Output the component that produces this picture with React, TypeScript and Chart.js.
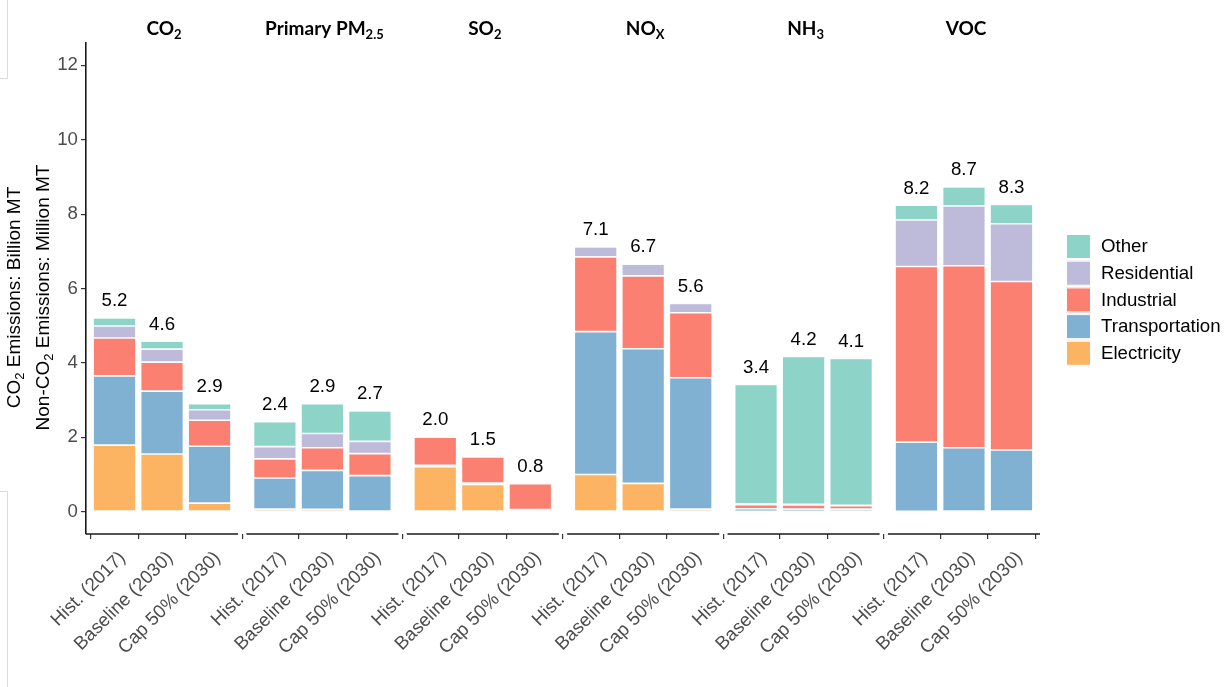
import React, { useEffect, useRef } from 'react';
import { Chart, registerables } from 'chart.js';

Chart.register(...registerables);

// Facets (pollutants), left to right, and the three scenarios within each facet
const pollutants = ['CO2', 'Primary PM2.5', 'SO2', 'NOX', 'NH3', 'VOC'];
const scenarios = ['Hist. (2017)', 'Baseline (2030)', 'Cap 50% (2030)'];
const sectors = ['Electricity', 'Transportation', 'Industrial', 'Residential', 'Other'];

// Emissions by sector, one value per pollutant x scenario (pollutant-major order).
// CO2 in billion MT, everything else in million MT.
const electricity = [1.79, 1.55, 0.23, 0.07, 0.065, 0.0, 1.21, 0.73, 0.03, 1.0, 0.76, 0.07, 0.01, 0.01, 0.0, 0.01, 0.02, 0.0];
const transportation = [1.86, 1.69, 1.53, 0.835, 1.045, 0.97, 0.04, 0.04, 0.03, 3.84, 3.62, 3.53, 0.07, 0.06, 0.07, 1.86, 1.7, 1.66];
const industrial = [1.02, 0.78, 0.7, 0.515, 0.61, 0.59, 0.75, 0.7, 0.69, 2.01, 1.96, 1.75, 0.11, 0.11, 0.09, 4.72, 4.89, 4.53];
const residential = [0.32, 0.35, 0.28, 0.33, 0.38, 0.33, 0.01, 0.01, 0.0, 0.27, 0.31, 0.25, 0.02, 0.02, 0.01, 1.25, 1.61, 1.55];
const other = [0.22, 0.21, 0.16, 0.67, 0.8, 0.82, 0.01, 0.01, 0.01, 0.01, 0.01, 0.01, 3.21, 3.97, 3.95, 0.4, 0.51, 0.52];

const yTicks = [0, 2, 4, 6, 8, 10, 12];

const seriesValues = [electricity, transportation, industrial, residential, other];
const sectorColors = ['#FDB462', '#80B1D3', '#FB8072', '#BEBADA', '#8DD3C7'];

type Seg = { t: string; sub?: boolean };

// Strip titles with subscripts
const facetTitles: Seg[][] = [
  [{ t: 'CO' }, { t: '2', sub: true }],
  [{ t: 'Primary PM' }, { t: '2.5', sub: true }],
  [{ t: 'SO' }, { t: '2', sub: true }],
  [{ t: 'NO' }, { t: 'X', sub: true }],
  [{ t: 'NH' }, { t: '3', sub: true }],
  [{ t: 'VOC' }],
];

const yTitleLines: Seg[][] = [
  [{ t: 'CO' }, { t: '2', sub: true }, { t: ' Emissions: Billion MT' }],
  [{ t: 'Non-CO' }, { t: '2', sub: true }, { t: ' Emissions: Million MT' }],
];

// Facet geometry on the shared linear x axis (units of one bar slot)
const PANEL_STEP = 3.375;
const PANEL_EXPAND = 0.6;
const barX = (i: number) => Math.floor(i / 3) * PANEL_STEP + (i % 3) + 1;
const barCount = pollutants.length * scenarios.length;
const barPositions = Array.from({ length: barCount }, (_, i) => barX(i));

const SANS = '"Liberation Sans", Arial, sans-serif';
const TITLE_FONT = 'Lato, "Open Sans", sans-serif';
const TEXT_SIZE = 18.67; // 14pt

function drawRich(
  ctx: CanvasRenderingContext2D,
  segs: Seg[],
  x: number,
  y: number,
  size: number,
  weight: string,
  family: string,
  color: string
) {
  const subSize = Math.round(size * 0.68);
  const mainFont = `${weight} ${size}px ${family}`;
  const subFont = `${weight} ${subSize}px ${family}`;
  const widths = segs.map((s) => {
    ctx.font = s.sub ? subFont : mainFont;
    return ctx.measureText(s.t).width;
  });
  const total = widths.reduce((a, b) => a + b, 0);
  let cx = x - total / 2;
  ctx.fillStyle = color;
  ctx.textAlign = 'left';
  ctx.textBaseline = 'alphabetic';
  segs.forEach((s, k) => {
    ctx.font = s.sub ? subFont : mainFont;
    ctx.fillText(s.t, cx, s.sub ? y + size * 0.24 : y);
    cx += widths[k];
  });
}

const decorPlugin = {
  id: 'facetDecor',
  beforeDraw(chart: any) {
    const { ctx, width, height } = chart;
    ctx.save();
    ctx.fillStyle = '#ffffff';
    ctx.fillRect(0, 0, width, height);
    // faint frame marks along the left edge
    ctx.strokeStyle = '#dcdcdc';
    ctx.lineWidth = 1;
    ctx.beginPath();
    ctx.moveTo(7.5, 0);
    ctx.lineTo(7.5, 78.5);
    ctx.lineTo(0, 78.5);
    ctx.moveTo(0, 491.5);
    ctx.lineTo(7.5, 491.5);
    ctx.lineTo(7.5, height);
    ctx.stroke();
    ctx.restore();
  },
  afterDraw(chart: any) {
    const { ctx, chartArea } = chart;
    const xs = chart.scales.x;
    const ys = chart.scales.y;
    ctx.save();

    // per-facet x axis lines and strip titles
    pollutants.forEach((_, p) => {
      const x0 = xs.getPixelForValue(p * PANEL_STEP + 1 - PANEL_EXPAND);
      const x1 = xs.getPixelForValue(p * PANEL_STEP + 3 + PANEL_EXPAND);
      ctx.strokeStyle = '#1a1a1a';
      ctx.lineWidth = 1.6;
      ctx.beginPath();
      ctx.moveTo(x0, chartArea.bottom);
      ctx.lineTo(x1, chartArea.bottom);
      ctx.stroke();
      drawRich(ctx, facetTitles[p], (x0 + x1) / 2 + 2, 34.5, 19, 'bold', TITLE_FONT, '#000000');
    });

    // stacked totals above each bar
    ctx.font = `${TEXT_SIZE}px ${SANS}`;
    ctx.fillStyle = '#000000';
    ctx.textAlign = 'center';
    ctx.textBaseline = 'alphabetic';
    barPositions.forEach((bx, i) => {
      const total = seriesValues.reduce((s, arr) => s + arr[i], 0);
      const px = xs.getPixelForValue(bx);
      const py = ys.getPixelForValue(total);
      ctx.fillText(total.toFixed(1), px, py - 11.5);
    });

    // two-line y axis title
    const cy = (chartArea.top + chartArea.bottom) / 2 + 9;
    [19.5, 48.5].forEach((bx, k) => {
      ctx.save();
      ctx.translate(bx, cy);
      ctx.rotate(-Math.PI / 2);
      drawRich(ctx, yTitleLines[k], 0, 0, 19, 'normal', SANS, '#000000');
      ctx.restore();
    });

    // legend, top entry = top of stack
    const lx = chartArea.right + 26;
    const ly = (chartArea.top + chartArea.bottom) / 2 - 54.5;
    for (let k = 0; k < sectors.length; k++) {
      const idx = sectors.length - 1 - k;
      const top = ly + k * 26.7;
      ctx.fillStyle = sectorColors[idx];
      ctx.fillRect(lx, top, 25, 25);
      ctx.strokeStyle = '#ffffff';
      ctx.lineWidth = 1;
      ctx.strokeRect(lx + 0.5, top + 0.5, 24, 24);
      ctx.fillStyle = '#000000';
      ctx.font = `${TEXT_SIZE}px ${SANS}`;
      ctx.textAlign = 'left';
      ctx.textBaseline = 'middle';
      ctx.fillText(sectors[idx], lx + 35, top + 13);
    }
    ctx.restore();
  },
};

export default function App() {
  const canvasRef = useRef<HTMLCanvasElement>(null);

  useEffect(() => {
    document.body.style.margin = '0';
    const canvas = canvasRef.current;
    if (!canvas) return;

    const datasets = sectors.map((name, k) => ({
      label: name,
      data: barPositions.map((x, i) => ({ x, y: seriesValues[k][i] })),
      backgroundColor: sectorColors[k],
      borderColor: '#f4fbfb',
      borderWidth: 0.8,
      borderSkipped: false as const,
      categoryPercentage: 0.9,
      barPercentage: 1.0,
    }));

    const chart = new Chart(canvas, {
      type: 'bar',
      data: { datasets },
      plugins: [decorPlugin],
      options: {
        responsive: false,
        animation: false,
        layout: { padding: { top: 43, right: 185, left: 0, bottom: 0 } },
        plugins: {
          legend: { display: false },
          tooltip: { enabled: false },
        },
        scales: {
          x: {
            type: 'linear',
            stacked: true,
            offset: false,
            min: 1 - PANEL_EXPAND,
            max: (pollutants.length - 1) * PANEL_STEP + 3 + PANEL_EXPAND,
            afterBuildTicks: (scale: any) => {
              scale.ticks = barPositions.map((v) => ({ value: v }));
            },
            afterFit: (scale: any) => {
              scale.height = 153;
            },
            ticks: {
              autoSkip: false,
              minRotation: 45,
              maxRotation: 45,
              padding: 8,
              labelOffset: 8,
              color: '#4d4d4d',
              font: { family: SANS, size: TEXT_SIZE },
              callback: (_v: any, index: number) => scenarios[index % 3],
            },
            grid: {
              display: true,
              drawOnChartArea: false,
              drawTicks: true,
              tickLength: 5,
              color: '#333333',
              lineWidth: 1.2,
            },
            border: { display: false },
          },
          y: {
            type: 'linear',
            stacked: true,
            min: -0.6,
            max: 12.6,
            afterBuildTicks: (scale: any) => {
              scale.ticks = yTicks.map((v) => ({ value: v }));
            },
            afterFit: (scale: any) => {
              scale.width = 86;
            },
            ticks: {
              padding: 3,
              color: '#4d4d4d',
              font: { family: SANS, size: TEXT_SIZE },
            },
            grid: {
              display: true,
              drawOnChartArea: false,
              drawTicks: true,
              tickLength: 5,
              color: '#333333',
              lineWidth: 1.2,
            },
            border: { display: true, color: '#1a1a1a', width: 1.6 },
          },
        },
      } as any,
    });

    return () => chart.destroy();
  }, []);

  return (
    <div style={{ position: 'absolute', left: 0, top: 0, width: 1225, height: 687, background: '#fff' }}>
      <canvas ref={canvasRef} width={1225} height={687} style={{ display: 'block' }} />
    </div>
  );
}
